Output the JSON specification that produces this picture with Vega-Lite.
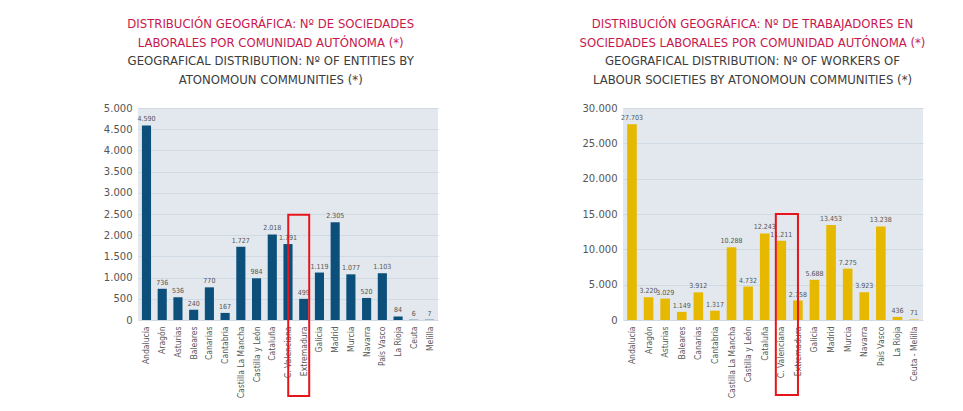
{
  "$schema": "https://vega.github.io/schema/vega-lite/v6.json",
  "background": "white",
  "padding": {"left": 103, "top": 18, "right": 5, "bottom": 0},
  "spacing": 141,
  "config": {
    "locale": {"number": {"decimal": ",", "thousands": ".", "grouping": [3], "currency": ["", " €"]}},
    "font": "DejaVu Sans Condensed, DejaVu Sans, sans-serif",
    "view": {"fill": "#e2e8ed", "stroke": null},
    "axisY": {"domain": false, "ticks": false, "grid": true, "gridColor": "#cfdae5", "gridWidth": 1, "labelColor": "#555555", "labelFontSize": 10, "labelPadding": 6, "labelOverlap": false, "labelFont": "DejaVu Sans, sans-serif"},
    "axisX": {"domain": false, "ticks": false, "grid": false, "labelAngle": -90, "labelAlign": "right", "labelBaseline": "middle", "labelColor": "#555555", "labelFontSize": 8.5, "labelPadding": 6, "labelFont": "DejaVu Sans Condensed, DejaVu Sans, sans-serif"},
    "title": {"color": "#c8174e", "fontSize": 13, "fontWeight": "normal", "font": "DejaVu Sans Condensed, DejaVu Sans, sans-serif", "lineHeight": 19, "subtitleColor": "#3c3c3c", "subtitleFontSize": 13, "subtitleLineHeight": 19, "subtitleFont": "DejaVu Sans Condensed, DejaVu Sans, sans-serif", "subtitlePadding": 5, "offset": 16, "anchor": "middle", "frame": "bounds"}
  },
  "datasets": {
    "sociedades": [
      {"region": "Andalucía", "value": 4590},
      {"region": "Aragón", "value": 736},
      {"region": "Asturias", "value": 536},
      {"region": "Baleares", "value": 240},
      {"region": "Canarias", "value": 770},
      {"region": "Cantabria", "value": 167},
      {"region": "Castilla La Mancha", "value": 1727},
      {"region": "Castilla y León", "value": 984},
      {"region": "Cataluña", "value": 2018},
      {"region": "C. Valenciana", "value": 1791},
      {"region": "Extremadura", "value": 499},
      {"region": "Galicia", "value": 1119},
      {"region": "Madrid", "value": 2305},
      {"region": "Murcia", "value": 1077},
      {"region": "Navarra", "value": 520},
      {"region": "País Vasco", "value": 1103},
      {"region": "La Rioja", "value": 84},
      {"region": "Ceuta", "value": 6},
      {"region": "Melilla", "value": 7}
    ],
    "trabajadores": [
      {"region": "Andalucía", "value": 27703},
      {"region": "Aragón", "value": 3220},
      {"region": "Asturias", "value": 3029},
      {"region": "Baleares", "value": 1149},
      {"region": "Canarias", "value": 3912},
      {"region": "Cantabria", "value": 1317},
      {"region": "Castilla La Mancha", "value": 10288},
      {"region": "Castilla y León", "value": 4732},
      {"region": "Cataluña", "value": 12243},
      {"region": "C. Valenciana", "value": 11211},
      {"region": "Extremadura", "value": 2758},
      {"region": "Galicia", "value": 5688},
      {"region": "Madrid", "value": 13453},
      {"region": "Murcia", "value": 7275},
      {"region": "Navarra", "value": 3923},
      {"region": "País Vasco", "value": 13238},
      {"region": "La Rioja", "value": 436},
      {"region": "Ceuta - Melilla", "value": 71}
    ],
    "box1": [{"region": "Extremadura", "top": 2480, "bottom": -1790}],
    "box2": [{"region": "Extremadura", "top": 15000, "bottom": -10600}]
  },
  "hconcat": [
    {
      "width": 300,
      "height": 212,
      "title": {
        "text": ["DISTRIBUCIÓN GEOGRÁFICA: Nº DE SOCIEDADES", "LABORALES POR COMUNIDAD AUTÓNOMA (*)"],
        "subtitle": ["GEOGRAFICAL DISTRIBUTION: Nº OF ENTITIES BY", "ATONOMOUN COMMUNITIES (*)"]
      },
      "data": {"name": "sociedades"},
      "encoding": {
        "x": {"field": "region", "type": "nominal", "sort": null, "scale": {"paddingInner": 0.42, "paddingOuter": 0.25}, "axis": {"title": null}}
      },
      "layer": [
        {
          "mark": {"type": "bar", "color": "#0b4f7a"},
          "encoding": {
            "y": {"field": "value", "type": "quantitative", "scale": {"domain": [0, 5000], "nice": false}, "axis": {"title": null, "values": [0, 500, 1000, 1500, 2000, 2500, 3000, 3500, 4000, 4500, 5000], "format": ",d"}}
          }
        },
        {
          "mark": {"type": "text", "dy": -6, "fontSize": 7, "color": "#555555"},
          "encoding": {
            "y": {"field": "value", "type": "quantitative", "axis": {"title": null, "values": [0, 500, 1000, 1500, 2000, 2500, 3000, 3500, 4000, 4500, 5000], "format": ",d"}},
            "text": {"field": "value", "type": "quantitative", "format": ",d"}
          }
        },
        {
          "data": {"name": "box1"},
          "mark": {"type": "bar", "fillOpacity": 0, "stroke": "#e8141b", "strokeWidth": 2, "width": {"band": 2.3}, "xOffset": -5},
          "encoding": {
            "y": {"field": "top", "type": "quantitative", "axis": {"title": null, "values": [0, 500, 1000, 1500, 2000, 2500, 3000, 3500, 4000, 4500, 5000], "format": ",d"}},
            "y2": {"field": "bottom"}
          }
        }
      ]
    },
    {
      "width": 300,
      "height": 212,
      "title": {
        "text": ["DISTRIBUCIÓN GEOGRÁFICA: Nº DE TRABAJADORES EN", "SOCIEDADES LABORALES POR COMUNIDAD AUTÓNOMA (*)"],
        "subtitle": ["GEOGRAFICAL DISTRIBUTION: Nº OF WORKERS OF", "LABOUR SOCIETIES BY ATONOMOUN COMMUNITIES (*)"]
      },
      "data": {"name": "trabajadores"},
      "encoding": {
        "x": {"field": "region", "type": "nominal", "sort": null, "scale": {"paddingInner": 0.42, "paddingOuter": 0.25}, "axis": {"title": null}}
      },
      "layer": [
        {
          "mark": {"type": "bar", "color": "#e6b800"},
          "encoding": {
            "y": {"field": "value", "type": "quantitative", "scale": {"domain": [0, 30000], "nice": false}, "axis": {"title": null, "values": [0, 5000, 10000, 15000, 20000, 25000, 30000], "format": ",d"}}
          }
        },
        {
          "mark": {"type": "text", "dy": -6, "fontSize": 7, "color": "#555555"},
          "encoding": {
            "y": {"field": "value", "type": "quantitative", "axis": {"title": null, "values": [0, 5000, 10000, 15000, 20000, 25000, 30000], "format": ",d"}},
            "text": {"field": "value", "type": "quantitative", "format": ",d"}
          }
        },
        {
          "data": {"name": "box2"},
          "mark": {"type": "bar", "fillOpacity": 0, "stroke": "#e8141b", "strokeWidth": 2, "width": {"band": 2.3}, "xOffset": -11},
          "encoding": {
            "y": {"field": "top", "type": "quantitative", "axis": {"title": null, "values": [0, 5000, 10000, 15000, 20000, 25000, 30000], "format": ",d"}},
            "y2": {"field": "bottom"}
          }
        }
      ]
    }
  ]
}
